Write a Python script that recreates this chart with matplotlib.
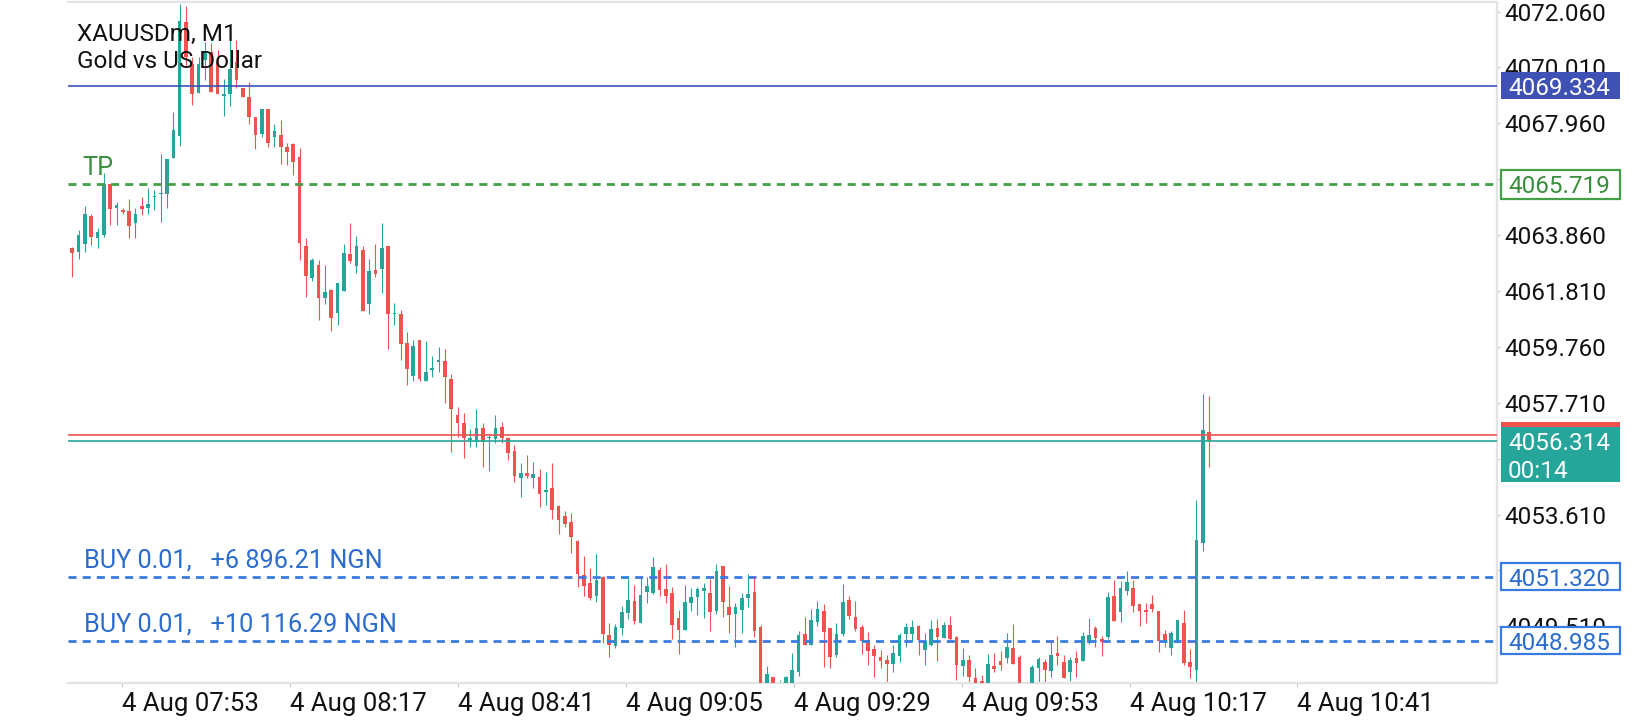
import matplotlib
matplotlib.use("Agg")
import matplotlib.pyplot as plt
from matplotlib.patches import Rectangle
from matplotlib.transforms import IdentityTransform

# --- fonts ---
plt.rcParams['font.family'] = ['Roboto', 'DejaVu Sans']
plt.rcParams['lines.scale_dashes'] = False

# --- data: XAUUSDm M1 candles ---
opens = [
    4063.37, 4063.25, 4063.52, 4064.56, 4063.77, 4063.86, 4065.72, 4064.87, 4064.75, 4064.74,
    4064.31, 4064.92, 4064.87, 4065.25, 4065.36, 4065.35, 4066.67, 4067.50, 4071.68, 4070.15,
    4069.09, 4070.28, 4070.58, 4070.22, 4068.97, 4069.05, 4070.22, 4069.24, 4068.91, 4068.20,
    4067.56, 4068.47, 4067.47, 4067.53, 4067.10, 4067.20, 4066.71, 4063.46, 4062.29, 4062.76,
    4061.56, 4061.84, 4061.01, 4061.82, 4063.16, 4062.73, 4063.31, 4061.34, 4062.58, 4062.62,
    4063.46, 4060.95, 4060.96, 4059.90, 4058.69, 4060.01, 4058.51, 4058.90, 4059.21, 4059.25,
    4058.59, 4057.26, 4056.95, 4056.34, 4056.26, 4056.77, 4056.40, 4056.37, 4056.81, 4056.40,
    4055.94, 4054.96, 4055.12, 4054.96, 4054.97, 4054.44, 4054.57, 4053.92, 4053.56, 4053.32,
    4052.64, 4051.39, 4051.09, 4050.62, 4051.30, 4049.19, 4048.79, 4049.46, 4050.01, 4050.44,
    4049.64, 4050.78, 4050.72, 4051.58, 4050.88, 4050.74, 4049.80, 4049.38, 4050.38, 4050.60,
    4050.80, 4050.74, 4050.08, 4051.72, 4050.21, 4049.96, 4050.11, 4050.56, 4050.76, 4049.47,
    4047.30, 4047.64, 4047.20, 4047.30, 4047.35, 4047.85, 4049.23, 4048.83, 4049.68, 4050.07,
    4049.46, 4048.46, 4049.23, 4050.47, 4049.84, 4049.47, 4049.01, 4048.68, 4048.40, 4048.27,
    4048.13, 4048.42, 4049.23, 4049.22, 4049.52, 4048.64, 4048.83, 4049.44, 4049.09, 4049.56,
    4049.13, 4048.05, 4048.27, 4047.62, 4047.50, 4047.35, 4048.05, 4048.24, 4048.36, 4048.73,
    4048.40, 4047.10, 4047.30, 4047.99, 4048.19, 4047.87, 4048.52, 4048.19, 4047.85, 4048.34,
    4048.25, 4048.89, 4049.44, 4049.03, 4049.13, 4050.62, 4050.05, 4050.82, 4050.91, 4050.33,
    4050.11, 4050.33, 4050.08, 4049.23, 4048.73, 4048.97, 4049.62, 4048.21, 4047.91, 4052.55,
    4056.62,
]
highs = [
    4063.43, 4064.04, 4064.92, 4064.62, 4064.13, 4066.12, 4065.72, 4065.08, 4064.84, 4065.20,
    4064.84, 4065.27, 4065.57, 4065.51, 4066.85, 4066.65, 4068.38, 4072.33, 4072.26, 4070.40,
    4070.40, 4070.95, 4070.89, 4070.64, 4069.60, 4071.32, 4071.01, 4069.24, 4069.48, 4068.20,
    4068.50, 4068.47, 4067.93, 4068.08, 4067.22, 4067.22, 4067.04, 4063.76, 4063.03, 4062.94,
    4062.76, 4061.87, 4062.12, 4063.55, 4064.31, 4063.82, 4063.46, 4062.98, 4063.53, 4064.31,
    4063.46, 4061.37, 4061.10, 4060.31, 4060.03, 4060.03, 4059.99, 4059.42, 4059.74, 4059.68,
    4058.75, 4057.56, 4057.34, 4056.73, 4057.48, 4056.95, 4056.53, 4057.26, 4056.99, 4056.46,
    4056.16, 4055.49, 4055.79, 4055.54, 4055.27, 4055.18, 4055.51, 4053.96, 4053.75, 4053.65,
    4052.68, 4052.09, 4051.66, 4052.15, 4051.36, 4049.64, 4049.59, 4050.26, 4051.23, 4051.03,
    4051.36, 4051.33, 4052.06, 4051.70, 4051.80, 4050.96, 4050.11, 4051.02, 4050.93, 4050.96,
    4051.11, 4051.23, 4051.78, 4051.72, 4050.99, 4050.35, 4050.74, 4051.43, 4051.36, 4049.55,
    4048.07, 4047.64, 4047.54, 4047.70, 4048.52, 4049.35, 4049.84, 4050.13, 4050.44, 4050.32,
    4049.46, 4049.62, 4051.06, 4050.62, 4050.44, 4049.56, 4049.31, 4048.83, 4048.64, 4048.46,
    4048.83, 4049.25, 4049.62, 4049.74, 4049.56, 4049.25, 4049.74, 4049.78, 4049.68, 4049.89,
    4049.15, 4048.70, 4048.46, 4047.97, 4047.72, 4048.49, 4048.54, 4048.60, 4049.25, 4049.60,
    4048.45, 4047.38, 4048.09, 4048.40, 4048.30, 4048.97, 4049.15, 4048.46, 4048.40, 4048.60,
    4049.29, 4049.81, 4049.52, 4049.15, 4050.76, 4051.21, 4051.18, 4051.54, 4051.21, 4050.33,
    4050.35, 4050.66, 4050.08, 4049.37, 4049.34, 4049.74, 4050.11, 4048.67, 4054.14, 4058.03,
    4057.96,
]
lows = [
    4062.33, 4063.00, 4063.23, 4063.49, 4063.37, 4063.80, 4064.23, 4064.23, 4064.65, 4063.76,
    4063.76, 4064.59, 4064.62, 4064.78, 4064.35, 4064.87, 4066.67, 4067.14, 4070.03, 4068.65,
    4069.09, 4069.54, 4069.11, 4069.05, 4068.24, 4068.59, 4069.24, 4068.93, 4067.95, 4067.00,
    4067.44, 4067.08, 4067.10, 4066.45, 4066.43, 4066.06, 4062.94, 4061.60, 4062.19, 4060.74,
    4061.35, 4060.35, 4060.58, 4061.82, 4062.85, 4062.48, 4061.09, 4060.97, 4062.31, 4061.74,
    4059.67, 4060.57, 4059.28, 4058.37, 4058.52, 4058.52, 4058.51, 4058.64, 4058.85, 4057.71,
    4055.91, 4056.46, 4055.69, 4056.10, 4056.10, 4055.37, 4055.22, 4056.22, 4056.22, 4055.61,
    4054.81, 4054.26, 4054.94, 4054.59, 4053.90, 4053.96, 4053.45, 4052.90, 4053.16, 4052.21,
    4050.96, 4050.62, 4050.48, 4050.41, 4048.89, 4048.40, 4048.73, 4049.19, 4049.77, 4049.60,
    4049.64, 4050.38, 4050.70, 4050.63, 4050.35, 4049.04, 4048.49, 4049.38, 4050.08, 4049.92,
    4049.83, 4049.35, 4049.96, 4049.86, 4049.25, 4048.74, 4049.28, 4050.21, 4049.11, 4047.10,
    4047.10, 4047.20, 4047.00, 4047.10, 4047.20, 4047.69, 4048.83, 4048.83, 4049.52, 4048.03,
    4047.99, 4048.40, 4049.17, 4049.78, 4049.35, 4048.49, 4048.09, 4047.64, 4047.97, 4047.44,
    4047.85, 4048.21, 4048.74, 4048.95, 4048.46, 4048.09, 4048.79, 4048.25, 4049.09, 4048.95,
    4047.54, 4047.69, 4047.44, 4047.20, 4047.15, 4047.20, 4047.85, 4047.91, 4048.15, 4048.13,
    4047.10, 4046.95, 4047.20, 4047.44, 4047.44, 4047.66, 4048.09, 4047.60, 4047.52, 4047.66,
    4048.25, 4048.86, 4048.76, 4048.43, 4049.03, 4049.70, 4049.68, 4050.66, 4050.05, 4049.52,
    4049.64, 4050.05, 4048.58, 4048.76, 4048.46, 4048.89, 4048.09, 4047.60, 4047.44, 4052.28,
    4055.34,
]
closes = [
    4063.19, 4063.86, 4064.63, 4063.80, 4063.96, 4065.72, 4064.80, 4064.96, 4064.72, 4064.20,
    4064.63, 4064.82, 4064.99, 4065.29, 4065.41, 4066.65, 4067.71, 4071.71, 4070.40, 4069.05,
    4070.15, 4070.58, 4069.11, 4069.05, 4069.02, 4069.95, 4069.54, 4068.93, 4068.20, 4067.53,
    4068.50, 4067.25, 4067.67, 4067.10, 4066.92, 4066.55, 4063.58, 4062.37, 4062.94, 4061.56,
    4061.76, 4060.83, 4062.12, 4063.20, 4062.92, 4063.46, 4061.09, 4062.54, 4062.43, 4063.39,
    4060.95, 4061.00, 4059.87, 4058.96, 4059.79, 4058.57, 4058.84, 4058.98, 4059.28, 4058.64,
    4057.47, 4056.95, 4056.40, 4056.40, 4056.77, 4056.26, 4056.46, 4056.77, 4056.40, 4055.85,
    4055.03, 4055.12, 4055.02, 4055.10, 4054.35, 4054.51, 4053.78, 4053.41, 4053.26, 4052.80,
    4051.42, 4050.99, 4050.56, 4051.21, 4049.23, 4048.83, 4049.47, 4050.05, 4050.48, 4049.72,
    4050.66, 4050.99, 4051.70, 4050.84, 4050.63, 4049.56, 4049.38, 4050.39, 4050.57, 4050.87,
    4050.90, 4050.05, 4051.54, 4050.39, 4049.92, 4050.21, 4050.54, 4050.70, 4049.35, 4047.30,
    4047.75, 4047.35, 4047.40, 4047.64, 4047.91, 4049.19, 4048.83, 4049.74, 4050.13, 4049.31,
    4048.40, 4049.23, 4050.39, 4049.90, 4049.40, 4048.98, 4048.60, 4048.42, 4048.25, 4048.13,
    4048.54, 4049.19, 4049.47, 4049.47, 4049.01, 4048.97, 4049.41, 4049.13, 4049.56, 4049.05,
    4048.09, 4048.27, 4047.66, 4047.35, 4047.35, 4048.13, 4047.96, 4048.09, 4048.74, 4048.13,
    4047.30, 4047.35, 4048.01, 4048.31, 4047.91, 4048.46, 4048.42, 4047.60, 4048.27, 4048.18,
    4049.15, 4049.19, 4049.09, 4048.95, 4050.57, 4049.72, 4050.90, 4051.12, 4050.25, 4050.08,
    4050.03, 4050.13, 4048.97, 4048.95, 4049.25, 4049.74, 4048.18, 4048.03, 4052.67, 4056.71,
    4056.314,
]

# price levels
level_blue = 4069.334
level_tp = 4065.719
level_buy1 = 4051.320
level_buy2 = 4048.985
bid = 4056.314
ask = 4056.524
timer = "00:14"

buy_labels = ["BUY 0.01,   +6 896.21 NGN", "BUY 0.01,   +10 116.29 NGN"]

# price scale ticks and time labels
y_ticks = [4072.060, 4070.010, 4067.960, 4065.910, 4063.860, 4061.810, 4059.760,
           4057.710, 4055.660, 4053.610, 4051.560, 4049.510]
x_tick_pos = [7.9, 34.5, 61.1, 87.7, 114.3, 140.9, 167.5, 194.0]
x_tick_labels = ["4 Aug 07:53", "4 Aug 08:17", "4 Aug 08:41", "4 Aug 09:05",
                 "4 Aug 09:29", "4 Aug 09:53", "4 Aug 10:17", "4 Aug 10:41"]

# --- colours ---
BULL = '#26a69a'
BEAR = '#ef5350'
INDIGO = '#3f51b5'
TP_LINE = '#43a047'
TP_TEXT = '#388e3c'
BUY_LINE = '#3a7be0'
BUY_TEXT = '#2b6ccc'
FRAME = '#e3e3e3'
FS = 17.5      # price scale / header
FS_X = 18.5    # time scale
FS_LBL = 18.2  # TP / BUY captions
DASH = (5.8, 4.4)

W, H = 1640, 720
fig = plt.figure(figsize=(W / 100, H / 100), dpi=100)
fig.patch.set_facecolor('white')
ax = fig.add_axes([68 / W, 1 - 683 / H, (1497 - 68) / W, (683 - 2) / H])

# --- candles ---
n = len(opens)
xs = list(range(n))
colors = [BULL if c >= o else BEAR for o, c in zip(opens, closes)]
min_body = 0.06
bottoms = [min(o, c) for o, c in zip(opens, closes)]
heights = [max(abs(c - o), min_body) for o, c in zip(opens, closes)]
ax.vlines(xs, lows, highs, colors=colors, linewidth=0.8, zorder=2)
ax.bar(xs, heights, bottom=bottoms, width=0.58, color=colors, linewidth=0, zorder=3)

# --- horizontal levels ---
ax.axhline(level_blue, color=INDIGO, lw=1.2, zorder=4)
ax.axhline(level_tp, color=TP_LINE, lw=2.0, dashes=DASH, zorder=4)
ax.axhline(level_buy1, color=BUY_LINE, lw=2.0, dashes=DASH, zorder=4)
ax.axhline(level_buy2, color=BUY_LINE, lw=2.0, dashes=DASH, zorder=4)
ax.axhline(ask, color=BEAR, lw=1.2, zorder=4)
ax.axhline(bid, color=BULL, lw=1.2, zorder=4)

ax.set_xlim(-0.68, 225.6)
ax.set_ylim(4047.43, 4072.41)

# --- axes styling ---
for side in ['top', 'bottom', 'right']:
    ax.spines[side].set_color(FRAME)
    ax.spines[side].set_linewidth(1.6)
ax.spines['left'].set_visible(False)
ax.yaxis.tick_right()
ax.set_yticks(y_ticks, labels=[f"{v:.3f}" for v in y_ticks])
ax.set_xticks(x_tick_pos, labels=x_tick_labels)
ax.tick_params(axis='y', which='both', length=2.5, width=0.8, color='#c8c8c8',
               pad=2.5, labelsize=FS, labelcolor='#111111', left=False)
ax.tick_params(axis='x', length=3, width=0.8, color='#c8c8c8', pad=3.5,
               labelsize=FS_X, labelcolor='#111111')
for lbl in ax.get_xticklabels():
    lbl.set_ha('left')

# --- header text ---
ax.text(9 / 1429, (683 - 34) / 681, "XAUUSDm, M1", transform=ax.transAxes,
        fontsize=FS, color='#111111', va='center', ha='left')
ax.text(9 / 1429, (683 - 62) / 681, "Gold vs US Dollar", transform=ax.transAxes,
        fontsize=FS, color='#111111', va='center', ha='left')

# --- labels on the lines ---
ytr = ax.get_yaxis_transform()
ax.annotate("TP", xy=(14 / 1429, level_tp), xycoords=ytr, xytext=(0, 11.5),
            textcoords='offset points', va='center', ha='left', fontsize=FS_LBL, color=TP_TEXT)
for lvl, txt in zip([level_buy1, level_buy2], buy_labels):
    ax.annotate(txt, xy=(16 / 1429, lvl), xycoords=ytr, xytext=(0, 11.5),
                textcoords='offset points', va='center', ha='left', fontsize=FS_LBL,
                color=BUY_TEXT)


# --- price boxes on the right scale ---
def price_box(price, lines, face, edge, tcolor, z, up=13.5, down=13.5):
    y = ax.transData.transform((0, price))[1]
    x0 = ax.transAxes.transform((1, 0))[0] + 4
    lw = 1.6 if edge is not None else 0
    rect = Rectangle((x0, y - down), 119, up + down, transform=IdentityTransform(),
                     facecolor=face, edgecolor=edge if edge else face, linewidth=lw, zorder=z)
    fig.add_artist(rect)
    for k, t in enumerate(lines):
        fig.text(x0 + 7, y - 28 * k, t, transform=IdentityTransform(), fontsize=FS,
                 color=tcolor, va='center_baseline', ha='left', zorder=z + 0.5)


price_box(level_blue, ["4069.334"], INDIGO, None, 'white', 5)
price_box(level_tp, ["4065.719"], 'white', TP_LINE, TP_TEXT, 5, up=14.5, down=14.5)
price_box(ask, [f"{ask:.3f}"], BEAR, None, 'white', 5)
price_box(bid, [f"{bid:.3f}", timer], BULL, None, 'white', 7, up=13.5, down=41.5)
price_box(level_buy1, ["4051.320"], 'white', BUY_LINE, BUY_TEXT, 5)
price_box(level_buy2, ["4048.985"], 'white', BUY_LINE, BUY_TEXT, 5)

fig.savefig("out.png", dpi=100)
